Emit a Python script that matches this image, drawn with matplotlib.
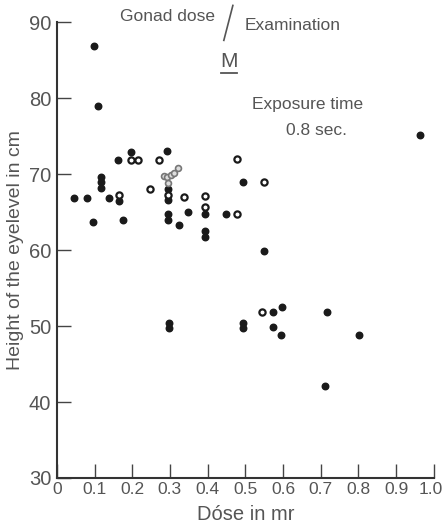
import matplotlib.pyplot as plt
from matplotlib.transforms import ScaledTranslation

plt.rcParams['font.family'] = ['Liberation Sans', 'DejaVu Sans']

# dose (mr) and eye-level height (cm), solid dots
dose_solid = [0.098, 0.109, 0.964, 0.161, 0.196, 0.293,
              0.046, 0.079, 0.097, 0.116, 0.116, 0.116, 0.139, 0.164, 0.176,
              0.295, 0.295, 0.295, 0.295, 0.324, 0.347,
              0.392, 0.392, 0.392, 0.449, 0.494, 0.549,
              0.297, 0.297, 0.494, 0.494, 0.573, 0.598, 0.716,
              0.574, 0.595, 0.801, 0.711]
height_solid = [86.9, 79.0, 75.2, 71.9, 72.9, 73.0,
                66.8, 66.8, 63.7, 69.6, 68.9, 68.2, 66.8, 66.5, 64.0,
                68.0, 66.6, 64.8, 63.9, 63.3, 65.0,
                64.8, 62.5, 61.7, 64.8, 69.0, 59.9,
                50.4, 49.7, 50.4, 49.8, 51.8, 52.5, 51.8,
                49.9, 48.8, 48.8, 42.1]

# open circles
dose_open = [0.196, 0.215, 0.271, 0.479, 0.248, 0.164, 0.295, 0.337,
             0.392, 0.392, 0.477, 0.549, 0.545]
height_open = [71.9, 71.9, 71.9, 72.0, 68.0, 67.2, 67.3, 67.0,
               67.1, 65.7, 64.8, 68.9, 51.8]

# grey cluster near 0.3 mr
dose_grey = [0.285, 0.293, 0.302, 0.312, 0.322, 0.296]
height_grey = [69.8, 69.6, 69.9, 70.2, 70.8, 68.8]

xticks = [0, 0.1, 0.2, 0.3, 0.4, 0.5, 0.6, 0.7, 0.8, 0.9, 1.0]
xticklabels = ['0', '0.1', '0.2', '0.3', '0.4', '0.5', '0.6', '0.7', '0.8', '0.9', '1.0']
yticks = [30, 40, 50, 60, 70, 80, 90]

txt = '#555555'
ink = '#1a1a1a'

fig = plt.figure(figsize=(4.44, 5.27), dpi=100)
ax = fig.add_axes([0.128, 0.093, 0.849, 0.865])

ax.scatter(dose_solid, height_solid, s=22, color=ink, edgecolors=ink, zorder=3)
ax.scatter(dose_open, height_open, s=20, facecolors='white', edgecolors=ink,
           linewidths=1.6, zorder=3)
ax.scatter(dose_grey, height_grey, s=18, facecolors='#dddddd', edgecolors='#777777',
           linewidths=1.2, zorder=3)

ax.set_xlim(0, 1.0)
ax.set_ylim(30, 90)
ax.set_xticks(xticks)
ax.set_xticklabels(xticklabels)
ax.set_yticks(yticks)

for s in ['top', 'right']:
    ax.spines[s].set_visible(False)
for s in ['left', 'bottom']:
    ax.spines[s].set_color('#333333')
    ax.spines[s].set_linewidth(1.5)

ax.tick_params(axis='both', direction='in', length=10, width=1, color='#444444',
               labelcolor=txt)
ax.tick_params(axis='x', pad=3, labelsize=12.5)
ax.tick_params(axis='y', pad=4, labelsize=14.5)

# pull the last x label in a little so it stays on the canvas
last = ax.get_xticklabels()[-1]
last.set_transform(last.get_transform() + ScaledTranslation(-3 / 100, 0, fig.dpi_scale_trans))

ax.set_xlabel('Dóse in mr', color=txt, fontsize=14.5, labelpad=6)
ax.set_ylabel('Height of the eyelevel in cm', color=txt, fontsize=14)
ax.yaxis.set_label_coords(-0.088, 0.5)

ax.text(0.168, 90.7, 'Gonad dose', color=txt, fontsize=12.5, va='center', ha='left')
ax.plot([0.443, 0.467], [87.6, 92.2], color=txt, lw=1.2, clip_on=False)
ax.text(0.499, 89.6, 'Examination', color=txt, fontsize=12.5, va='center', ha='left')
ax.text(0.457, 84.8, 'M', color=txt, fontsize=15, va='center', ha='center')
ax.plot([0.435, 0.479], [83.3, 83.3], color=txt, lw=1.3)
ax.text(0.519, 79.1, 'Exposure time', color=txt, fontsize=12.5, va='center', ha='left')
ax.text(0.688, 75.8, '0.8 sec.', color=txt, fontsize=12.5, va='center', ha='center')

fig.savefig('out.png', dpi=100)
